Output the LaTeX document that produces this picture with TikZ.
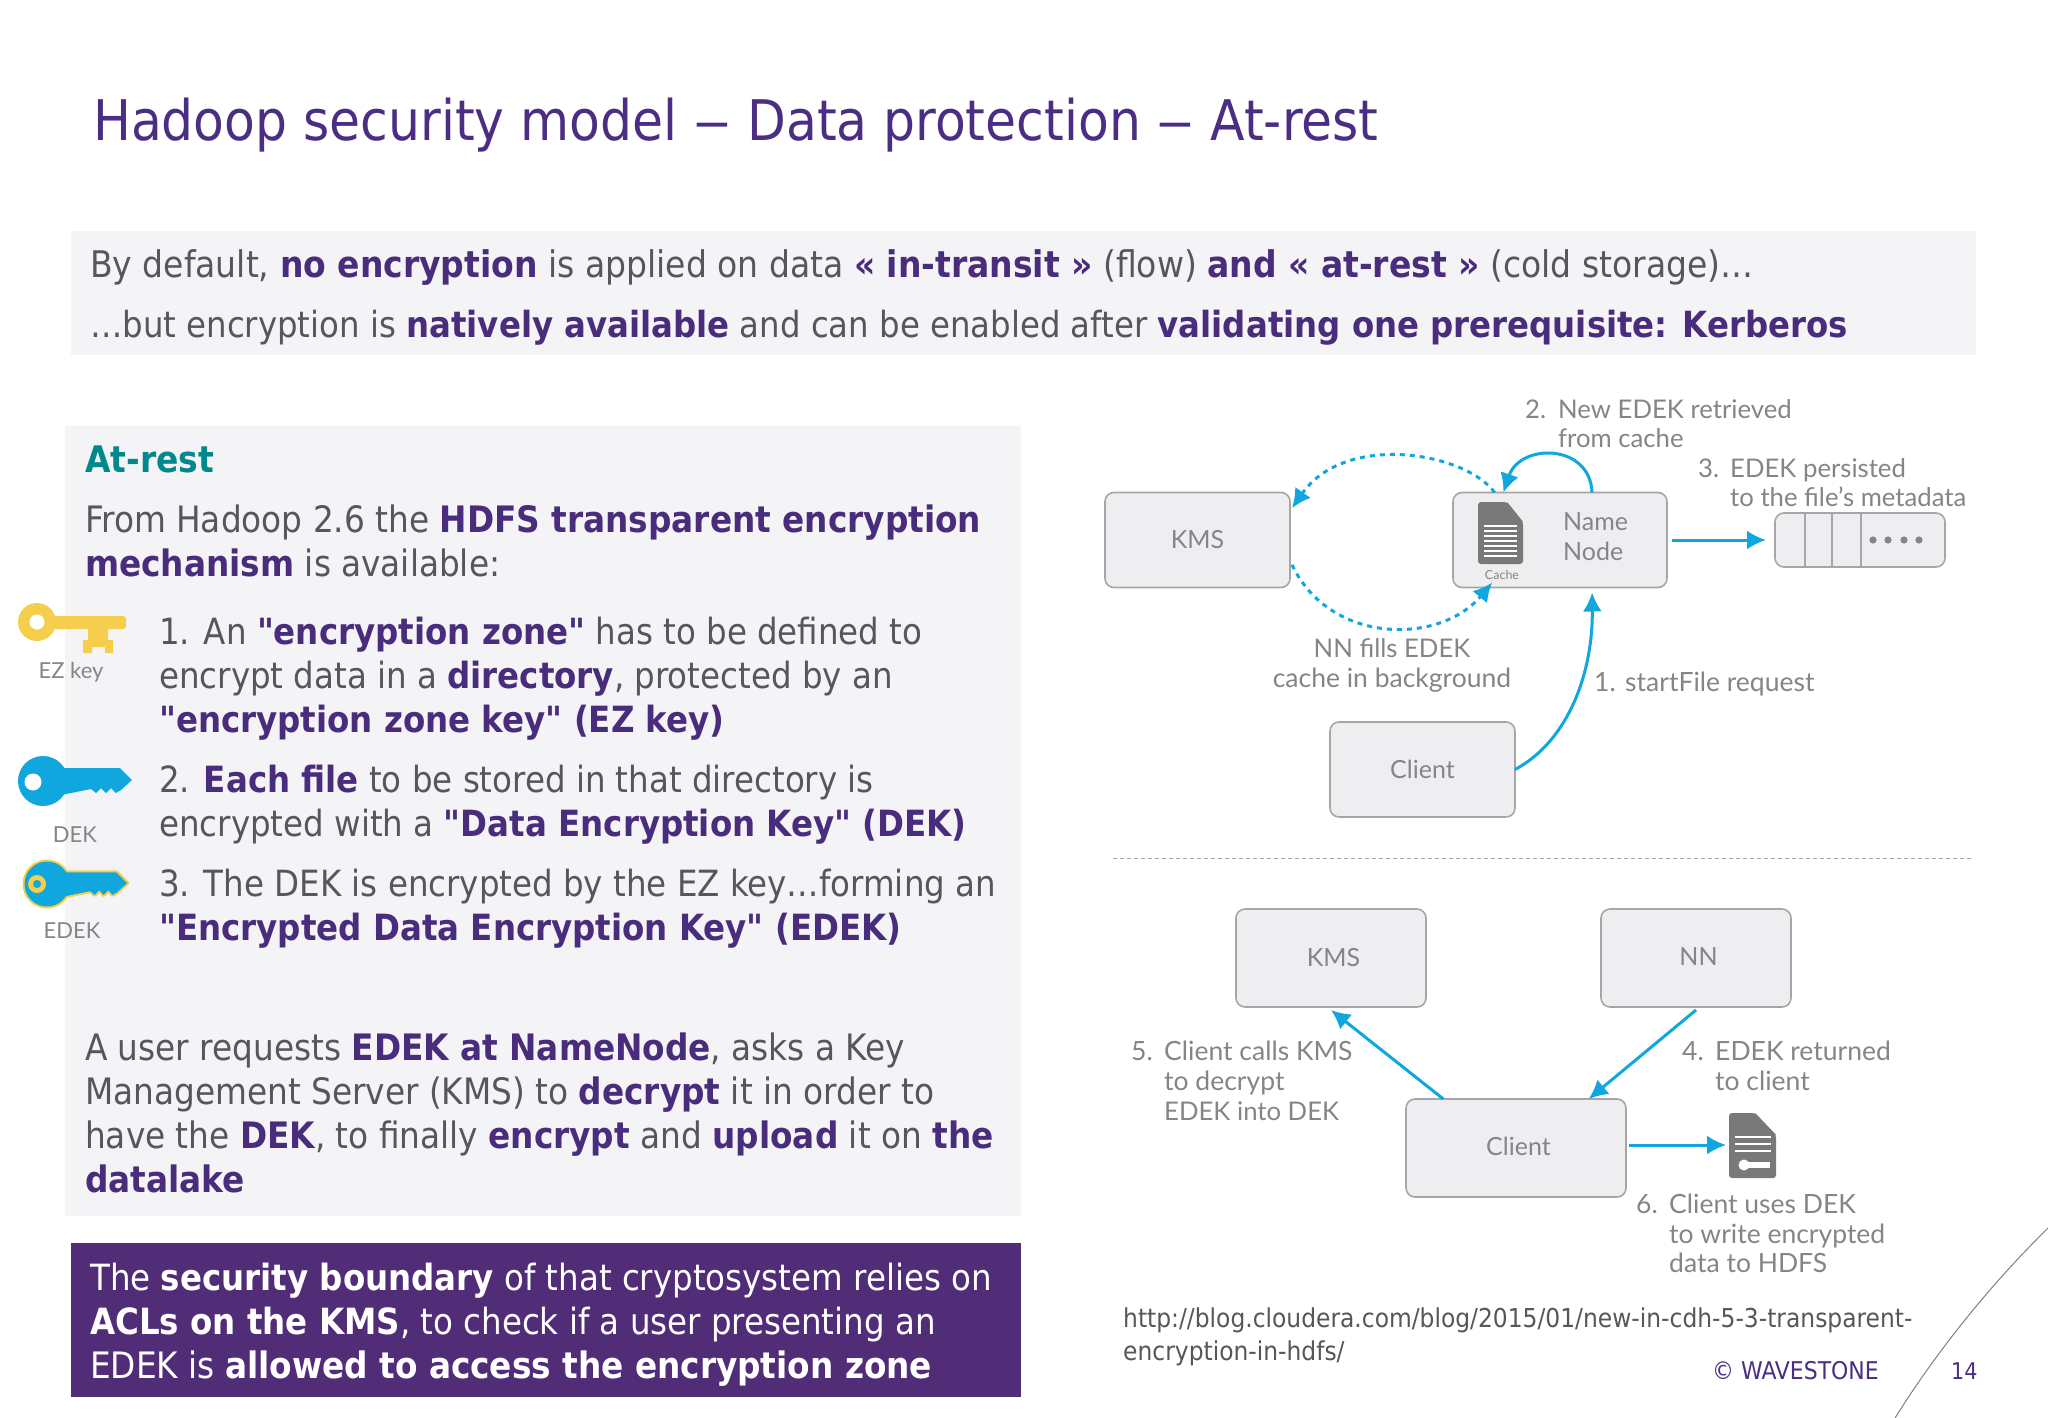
\documentclass[tikz,border=0pt]{standalone}
\usepackage{fontspec}
\setmainfont{DejaVu Sans Condensed}[Ligatures=TeXOff]
\newfontfamily\figfont{Lato}
\usetikzlibrary{arrows.meta, positioning}
\definecolor{titlepurple}{HTML}{4B2E83}
\definecolor{hlpurple}{HTML}{4A2C7C}
\definecolor{boxpurple}{HTML}{512D78}
\definecolor{bodygray}{HTML}{57575A}
\definecolor{figgray}{HTML}{858587}
\definecolor{panelgray}{HTML}{F4F3F5}
\definecolor{boxfill}{HTML}{EEEEF0}
\definecolor{boxedge}{HTML}{A6A6A8}
\definecolor{flowblue}{HTML}{0FA7DD}
\definecolor{keyyellow}{HTML}{F6CE4E}
\definecolor{teal}{HTML}{00888C}
\newcommand{\hl}[1]{\textbf{\textcolor{hlpurple}{#1}}}
\newcommand{\wb}[1]{\textbf{#1}}
\newcommand{\keyshape}[1]{%
  \path[#1] (0,0) circle[radius=25];
  \path[#1] (18,-13) -- (77,-13) -- (89,-1) -- (78,9) -- (73,12) -- (68,7) -- (63,12) -- (58,7) -- (53,12) -- (48,8) -- (18,14) -- cycle;}
\tikzset{
  line/.style={anchor=base west, inner sep=0pt, font=\fontsize{36.1}{36.1}\selectfont, text=bodygray},
  linewide/.style={line, font=\fontsize{36.4}{36.4}\selectfont},
  figlabel/.style={anchor=base west, inner sep=0pt, font=\figfont\fontsize{26.5}{26.5}\selectfont, text=figgray},
  figsmall/.style={figlabel, font=\figfont\fontsize{25.7}{25.7}\selectfont},
  keylabel/.style={figlabel, anchor=base, font=\figfont\fontsize{22}{22}\selectfont},
  figbox/.style={draw=boxedge, fill=boxfill, line width=1.6pt, rounded corners=9pt, inner sep=0pt, outer sep=0pt, text=figgray, font=\figfont\fontsize{25}{25}\selectfont},
  flow/.style={->, draw=flowblue, line width=3pt},
  flowdash/.style={->, draw=flowblue, line width=3pt, dash pattern=on 5pt off 5pt},
  >={Latex[length=19pt,width=19pt]}
}
\begin{document}
\begin{tikzpicture}[x=1pt,y=-1pt]
\useasboundingbox (0,0) rectangle (2048,1418);
\fill[white] (0,0) rectangle (2048,1418);

% Bandeaux de fond
\fill[panelgray] (71,231) rectangle (1976,355);
\fill[panelgray] (65,426) rectangle (1021,1216);
\fill[boxpurple] (71,1243) rectangle (1021,1397);

% Titre
\node[line, font=\fontsize{56}{56}\selectfont, text=titlepurple] (title) at (93,141) {Hadoop security model \scalebox{1.5}[1]{–} Data protection \scalebox{1.5}[1]{–} At-rest};

% Bandeau du haut
\node[line, font=\fontsize{36.7}{36.7}\selectfont] (introa) at (90,277) {By default, \hl{no encryption} is applied on data \hl{« in-transit »} (flow) \hl{and « at-rest »} (cold storage)…};
\node[line, font=\fontsize{36}{36}\selectfont] (introb) at (90,337) {…but encryption is \hl{natively available} and can be enabled after \hl{validating one prerequisite: Kerberos}};

% Panneau de gauche
\node[line, text=teal, font=\bfseries\fontsize{36.6}{36.6}\selectfont] (atrest) at (85,472) {At-rest};
\node[linewide] (fromb) at (85,532) {From Hadoop 2.6 the \hl{HDFS transparent encryption}};
\node[linewide] (fromc) at (85,576) {\hl{mechanism} is available:};
\node[line] (onea) at (159,644.5) {1. An \hl{"encryption zone"} has to be defined to};
\node[line] (oneb) at (159,688.5) {encrypt data in a \hl{directory}, protected by an};
\node[line] (onec) at (159,732.5) {\hl{"encryption zone key" (EZ key)}};
\node[line] (twoa) at (159,792.5) {2. \hl{Each file} to be stored in that directory is};
\node[line] (twob) at (159,836.5) {encrypted with a \hl{"Data Encryption Key" (DEK)}};
\node[line] (threea) at (159,896.5) {3. The DEK is encrypted by the EZ key…forming an};
\node[line] (threeb) at (159,940.5) {\hl{"Encrypted Data Encryption Key" (EDEK)}};
\node[linewide] (usera) at (85,1060) {A user requests \hl{EDEK at NameNode}, asks a Key};
\node[linewide] (userb) at (85,1104) {Management Server (KMS) to \hl{decrypt} it in order to};
\node[linewide] (userc) at (85,1148) {have the \hl{DEK}, to finally \hl{encrypt} and \hl{upload} it on \hl{the}};
\node[linewide] (userd) at (85,1192) {\hl{datalake}};

% Encadre violet
\node[line, text=white] (bounda) at (90,1290) {The \wb{security boundary} of that cryptosystem relies on};
\node[line, text=white] (boundb) at (90,1334) {\wb{ACLs on the KMS}, to check if a user presenting an};
\node[linewide, text=white] (boundc) at (90,1378) {EDEK is \wb{allowed to access the encryption zone}};

% Cle jaune
\fill[keyyellow] (37,622) circle[radius=19];
\fill[keyyellow, rounded corners=3pt] (50,616) rectangle (126,629);
\fill[keyyellow] (88,628) -- (88,640) -- (83,640) -- (83,653) -- (92,653) -- (92,647) -- (105,647) -- (105,653) -- (113,653) -- (113,640) -- (108,640) -- (108,628) -- cycle;
\fill[white] (37,622) circle[radius=7.5];
\node[keylabel] (ezlabel) at (71,678) {EZ key};

% Cle bleue
\begin{scope}[shift={(43,781)}]
  \keyshape{fill=flowblue}
  \fill[white] (-10,1) circle[radius=8.5];
\end{scope}
\node[keylabel] (deklabel) at (75,842) {DEK};

% Cle bleue et jaune
\begin{scope}[shift={(47,884)}, scale=0.9]
  \keyshape{draw=keyyellow, line width=4pt, line join=round, fill=keyyellow}
  \keyshape{fill=flowblue}
  \fill[keyyellow] (-11,0) circle[radius=10];
  \fill[flowblue] (-11,0) circle[radius=4.5];
\end{scope}
\node[keylabel] (edeklabel) at (72,938) {EDEK};

% Figure du haut
\node[figbox, minimum width=185pt, minimum height=95pt] (kmsa) at (1197.5,540) {KMS};
\node[figbox, minimum width=214pt, minimum height=95pt] (namenode) at (1560,540) {};
\node[figbox, minimum width=185pt, minimum height=95pt] (clienta) at (1422.5,769.5) {Client};
\node[figbox, minimum width=170pt, minimum height=54pt] (meta) at (1860,540) {};
\draw[boxedge, line width=1.6pt] (1805,513) -- (1805,567) (1832,513) -- (1832,567) (1861,513) -- (1861,567);
\foreach \xx in {1873,1888,1904,1919} \fill[figgray] (\xx,540) circle[radius=3.6];

\node[figlabel, font=\figfont\fontsize{25}{25}\selectfont] (namea) at (1563,530) {Name};
\node[figlabel, font=\figfont\fontsize{25}{25}\selectfont] (nameb) at (1563,560) {Node};
\fill[gray!95!black, rounded corners=3pt] (1478,502) -- (1507,502) -- (1523,522) -- (1523,564) -- (1478,564) -- cycle;
\fill[boxfill] (1507,501) -- (1524,501) -- (1524,521) -- cycle;
\fill[gray!95!black] (1507,502) -- (1507,522) -- (1523,522) -- cycle;
\foreach \yy in {526,531,536,541,546,551,556} \draw[white, line width=1.3pt] (1484,\yy) -- (1517,\yy);
\node[figlabel, anchor=base, font=\figfont\fontsize{12.5}{12.5}\selectfont] (cachelabel) at (1502,579) {Cache};

\draw[flowdash] (namenode.144) .. controls (1465,452) and (1345,432) .. ([xshift=2pt]kmsa.19);
\draw[flowdash] ([xshift=2pt]kmsa.-15) .. controls (1330,645) and (1440,645) .. ([yshift=5pt]namenode.215);
\draw[flow] (namenode.56) .. controls (1590,443) and (1520,443) .. (namenode.140);
\draw[flow, shorten <=5pt, shorten >=9pt] (namenode.east) -- (meta.west);
\draw[flow, shorten >=5pt] (clienta.east) .. controls (1570,740) and (1593,670) .. (namenode.304.5);

\node[figsmall] (stepb) at (1525,418) {2.};
\node[figsmall] (stepba) at (1558,418) {New EDEK retrieved};
\node[figsmall] (stepbb) at (1558,447) {from cache};
\node[figsmall] (stepc) at (1698,477) {3.};
\node[figsmall] (stepca) at (1730,477) {EDEK persisted};
\node[figsmall] (stepcb) at (1730,506) {to the file’s metadata};
\node[figsmall, anchor=base] (fillsa) at (1392,657) {NN fills EDEK};
\node[figlabel, anchor=base] (fillsb) at (1392,687) {cache in background};
\node[figlabel] (stepa) at (1594,691) {1.};
\node[figlabel] (stepaa) at (1625,691) {startFile request};

% Separateur
\draw[boxedge, line width=1pt, dash pattern=on 4pt off 3pt] (1113,858) -- (1973,858);

% Figure du bas
\node[figbox, minimum width=190pt, minimum height=98pt] (kmsb) at (1331,958) {\raisebox{2pt}{\hspace{5pt}KMS}};
\node[figbox, minimum width=190pt, minimum height=98pt] (nnb) at (1696,958) {\raisebox{2pt}{\hspace{5pt}NN}};
\node[figbox, minimum width=220pt, minimum height=98pt] (clientb) at (1516,1148) {\raisebox{3pt}{\hspace{5pt}Client}};
\coordinate (doc) at (1726,1145);

\fill[gray!95!black, rounded corners=3pt] (1729,1113) -- (1755,1113) -- (1776,1135) -- (1776,1178) -- (1729,1178) -- cycle;
\fill[white] (1755,1112) -- (1777,1112) -- (1777,1134) -- cycle;
\fill[gray!95!black] (1755,1113) -- (1755,1135) -- (1776,1135) -- cycle;
\foreach \yy in {1137,1144,1151} \draw[white, line width=1.5pt] (1735,\yy) -- (1771,\yy);
\fill[white] (1744,1165) circle[radius=5.5];
\fill[white] (1746,1162) rectangle (1770,1168);

\draw[flow] (clientb.146) -- ([yshift=-3pt]kmsb.south);
\draw[flow] ([yshift=-3pt]nnb.south) -- (clientb.34);
\draw[flow, shorten <=3pt] ([yshift=3pt]clientb.east) -- (doc);

\node[figlabel] (stepe) at (1131,1060) {5.};
\node[figlabel] (stepea) at (1164,1060) {Client calls KMS};
\node[figlabel] (stepeb) at (1164,1090) {to decrypt};
\node[figsmall] (stepec) at (1164,1120) {EDEK into DEK};
\node[figlabel] (stepd) at (1682,1060) {4.};
\node[figlabel] (stepda) at (1715,1060) {EDEK returned};
\node[figlabel] (stepdb) at (1715,1090) {to client};
\node[figlabel] (stepf) at (1636,1213) {6.};
\node[figlabel] (stepfa) at (1669,1213) {Client uses DEK};
\node[figlabel] (stepfb) at (1669,1243) {to write encrypted};
\node[figlabel] (stepfc) at (1669,1272) {data to HDFS};

% Lien et pied de page
\node[line, font=\fontsize{26}{26}\selectfont] (urla) at (1123,1327) {http://blog.cloudera.com/blog/2015/01/new-in-cdh-5-3-transparent-};
\node[line, font=\fontsize{26}{26}\selectfont] (urlb) at (1123,1360) {encryption-in-hdfs/};
\node[line, font=\fontsize{24.4}{24.4}\selectfont, text=titlepurple] (copyr) at (1712,1379) {© WAVESTONE};
\node[line, font=\fontsize{23}{23}\selectfont, text=titlepurple] (pagenum) at (1951,1379) {14};
\draw[gray, line width=1pt] (2048,1228) .. controls (1975,1300) and (1925,1370) .. (1895,1418);
\end{tikzpicture}
\end{document}
